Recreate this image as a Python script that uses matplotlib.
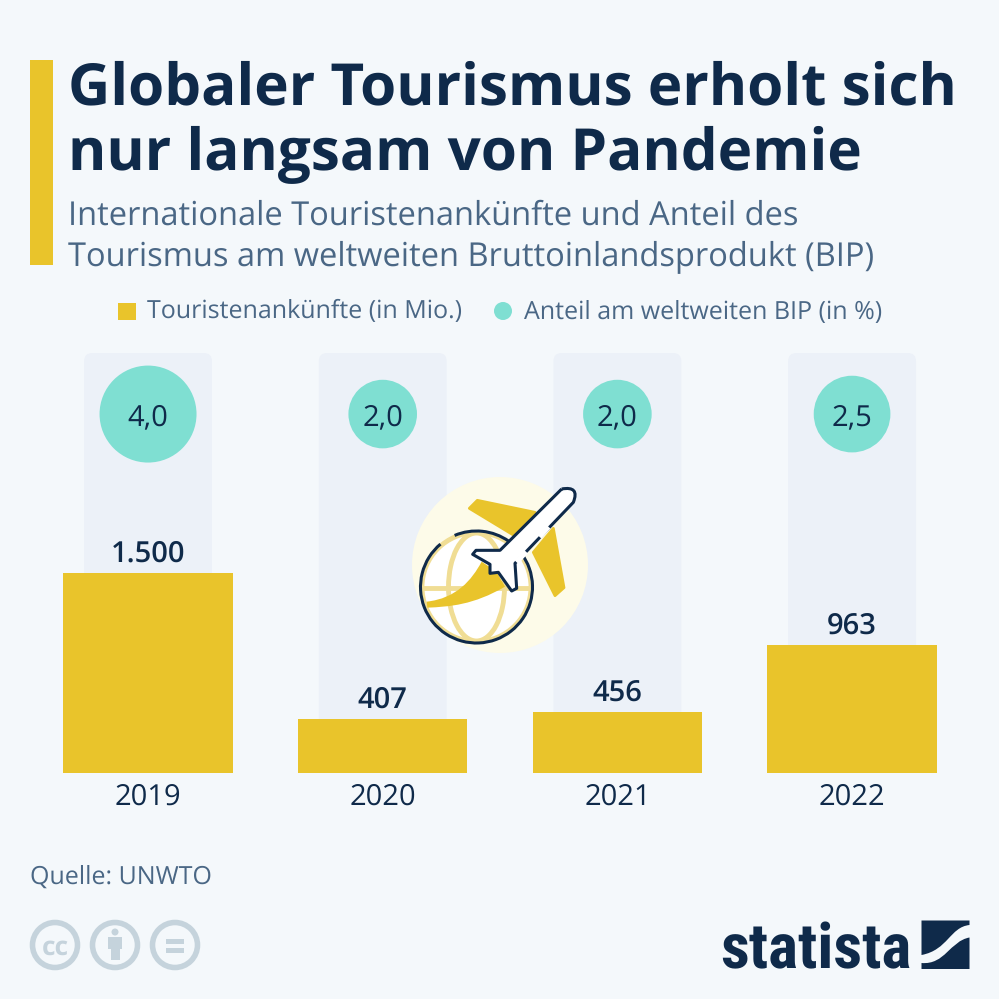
import numpy as np
import matplotlib
matplotlib.use("Agg")
import matplotlib.pyplot as plt
from matplotlib.patches import Circle, Rectangle, FancyBboxPatch, PathPatch, Arc
from matplotlib.path import Path

years = ["2019", "2020", "2021", "2022"]
arrivals = [1500, 407, 456, 963]
arrival_labels = ["1.500", "407", "456", "963"]
gdp_share = [4.0, 2.0, 2.0, 2.5]
gdp_labels = ["4,0", "2,0", "2,0", "2,5"]

title_lines = ["Globaler Tourismus erholt sich", "nur langsam von Pandemie"]
subtitle_lines = ["Internationale Touristenankünfte und Anteil des",
                  "Tourismus am weltweiten Bruttoinlandsprodukt (BIP)"]

BG = "#f4f8fb"
NAVY = "#0f2a4a"
SLATE = "#4a6785"
YELLOW = "#e9c42b"
PALE = "#f0dd94"
TEAL = "#7fdfd2"
COLUMN = "#ecf1f8"
GREY = "#c5d3dc"

plt.rcParams["font.family"] = "Open Sans"
plt.rcParams["text.hinting"] = "none"

fig = plt.figure(figsize=(9.99, 9.99), dpi=100, facecolor=BG)

# chart axes, y scale 200 px = 1500
ax = fig.add_axes([30.7 / 999, 1 - 773 / 999, 938.7 / 999, 420 / 999])
ax.set_xlim(-0.5, 3.5)
ax.set_ylim(0, 3150)
ax.axis("off")
for i in range(4):
    ax.add_patch(FancyBboxPatch((i - 0.2725, 0), 0.545, 3150, boxstyle="round,pad=0,rounding_size=0.035",
                                mutation_aspect=1760, fc=COLUMN, ec="none", zorder=1))
ax.bar(range(4), arrivals, width=0.722, color=YELLOW, zorder=2)
ax.scatter(range(4), [2692] * 4, s=[v * 1219 for v in gdp_share], color=TEAL, lw=0, zorder=3)
for i in range(4):
    ax.text(i, 2692, gdp_labels[i], ha="center", va="center_baseline", fontsize=21, color=NAVY, zorder=4)
    ax.text(i, arrivals[i] + 82, arrival_labels[i], ha="center", va="baseline", fontsize=21,
            fontweight="semibold", color=NAVY, zorder=4)
    ax.text(i, -240, years[i], ha="center", va="baseline", fontsize=21, color=NAVY, clip_on=False)

# overlay in pixel coordinates for header, legend, icon and footer
ov = fig.add_axes([0, 0, 1, 1], facecolor="none")
ov.set_xlim(0, 999)
ov.set_ylim(999, 0)
ov.axis("off")

ov.add_patch(Rectangle((30, 60), 23, 205, fc=YELLOW, ec="none"))
ov.text(68, 104, title_lines[0], fontsize=42, fontweight="bold", color=NAVY, va="baseline")
ov.text(68, 170, title_lines[1], fontsize=42, fontweight="bold", color=NAVY, va="baseline")
ov.text(68, 225, subtitle_lines[0], fontsize=23.5, color=SLATE, va="baseline")
ov.text(68, 265, subtitle_lines[1], fontsize=23.5, color=SLATE, va="baseline")

ov.add_patch(Rectangle((118, 303), 18, 17, fc=YELLOW, ec="none"))
ov.text(147, 318, "Touristenankünfte (in Mio.)", fontsize=18, color=SLATE, va="baseline")
ov.add_patch(Circle((503, 311), 9, fc=TEAL, ec="none"))
ov.text(524, 318, "Anteil am weltweiten BIP (in %)", fontsize=18, color=SLATE, va="baseline")


def z(pts):
    return [(400 + x / 3, 465 + y / 3) for x, y in pts]


# plane and globe icon
ov.add_patch(Circle((500, 565), 88, fc="#fdfbe9", ec="none", zorder=5))
ov.add_patch(plt.Polygon(z([(232, 106), (208, 130), (340, 210), (405, 142)]), fc=YELLOW, ec=YELLOW, lw=2,
                         joinstyle="round", zorder=5))
ov.add_patch(plt.Polygon(z([(460, 190), (492, 368), (465, 392), (400, 262)]), fc=YELLOW, ec=YELLOW, lw=2,
                         joinstyle="round", zorder=5))
ov.add_patch(Circle((476.5, 587), 56, fc="white", ec="none", zorder=5))
ov.add_patch(Arc((476.5, 587), 56, 108, lw=3.5, ec=PALE, zorder=5))
ov.add_patch(Arc((476.5, 587), 109, 109, lw=3.5, ec=PALE, zorder=5))
ov.plot([422, 531], [588, 588], color=PALE, lw=3.5, zorder=5)
ov.add_patch(PathPatch(Path(z([(80, 410), (170, 400), (215, 345), (245, 290), (290, 320), (315, 365),
                               (220, 420), (150, 425), (82, 428), (80, 410)]),
                            [Path.MOVETO, Path.CURVE4, Path.CURVE4, Path.CURVE4, Path.LINETO, Path.LINETO,
                             Path.CURVE4, Path.CURVE4, Path.CURVE4, Path.CLOSEPOLY]),
                       fc=YELLOW, ec="none", zorder=5))
# globe outline with its gaps
ov.add_patch(Arc((476.5, 587), 112, 112, theta1=-55, theta2=230, lw=2.2, ec=NAVY, zorder=6))
ov.add_patch(Arc((476.5, 587), 112, 112, theta1=247, theta2=305, lw=2.2, ec=NAVY, zorder=6))

plane = Path(z([(485, 72), (300, 256), (228, 256), (218, 268), (270, 298), (270, 325), (295, 322),
                (335, 378), (350, 370), (345, 295), (520, 112), (540, 62), (485, 72)]),
             [Path.MOVETO, Path.LINETO, Path.LINETO, Path.LINETO, Path.LINETO, Path.LINETO, Path.LINETO,
              Path.LINETO, Path.LINETO, Path.LINETO, Path.LINETO, Path.CURVE3, Path.CURVE3])
ov.add_patch(PathPatch(plane, fc="white", ec=NAVY, lw=2.2, joinstyle="round", zorder=7))
# white breaks in the plane outline where the wings join
ov.plot(*zip(*z([(378, 260), (349, 291)])), color="white", lw=4, solid_capstyle="butt", zorder=8)
ov.plot(*zip(*z([(445, 185), (418, 215)])), color="white", lw=4, solid_capstyle="butt", zorder=8)

# footer
ov.text(30, 884, "Quelle: UNWTO", fontsize=18, color=SLATE, va="baseline")
for cx in [55, 115, 175]:
    ov.add_patch(Circle((cx, 945), 22.5, fc="none", ec=GREY, lw=4))
ov.text(55, 945, "cc", fontsize=19, fontweight="bold", color=GREY, ha="center", va="center_baseline")
ov.add_patch(Circle((115, 932), 3.5, fc=GREY, ec="none"))
ov.add_patch(Rectangle((108, 937), 14, 12, fc=GREY, ec="none"))
ov.add_patch(Rectangle((110.5, 949), 9, 11, fc=GREY, ec="none"))
ov.add_patch(Rectangle((166, 939), 18, 4.5, fc=GREY, ec="none"))
ov.add_patch(Rectangle((166, 948), 18, 4.5, fc=GREY, ec="none"))

ov.text(720, 968, "statista", fontsize=45.5, fontweight="bold", color=NAVY, va="baseline",
        family=["Roboto Condensed", "DejaVu Sans"])
upper = Path([(921.5, 920.5), (969.5, 920.5), (969.5, 925), (950, 927), (948, 950), (921.5, 955), (921.5, 920.5)],
             [Path.MOVETO, Path.LINETO, Path.LINETO, Path.CURVE4, Path.CURVE4, Path.CURVE4, Path.CLOSEPOLY])
lower = Path([(969.5, 937.5), (969.5, 969), (921.5, 969), (921.5, 963), (945, 965), (950, 941), (969.5, 937.5)],
             [Path.MOVETO, Path.LINETO, Path.LINETO, Path.LINETO, Path.CURVE4, Path.CURVE4, Path.CURVE4])
ov.add_patch(PathPatch(upper, fc=NAVY, ec="none"))
ov.add_patch(PathPatch(lower, fc=NAVY, ec="none"))

fig.savefig("out.png", dpi=100, facecolor=BG)
